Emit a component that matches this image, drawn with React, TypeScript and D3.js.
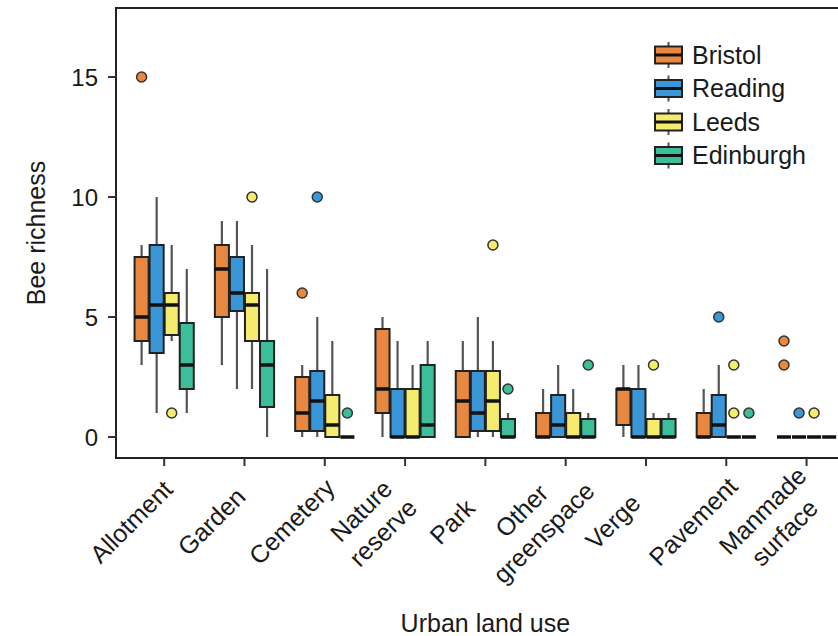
import React from 'react';
import * as d3 from 'd3';

// ---------- data ----------
const categories = [
  'Allotment', 'Garden', 'Cemetery', 'Nature\nreserve', 'Park',
  'Other\ngreenspace', 'Verge', 'Pavement', 'Manmade\nsurface',
];
const cities = ['Bristol', 'Reading', 'Leeds', 'Edinburgh'];
const cityColors = ['#E88840', '#3A96D6', '#F5EB6E', '#3CBE9B'];

// [lower whisker, Q1, median, Q3, upper whisker] per category
const bristolStats = [
  [3, 4, 5, 7.5, 8], [3, 5, 7, 8, 9], [0, 0.25, 1, 2.5, 3], [0, 1, 2, 4.5, 5],
  [0, 0, 1.5, 2.75, 4], [0, 0, 0, 1, 2], [0, 0.5, 2, 2, 3], [0, 0, 0, 1, 2], [0, 0, 0, 0, 0],
];
const readingStats = [
  [1, 3.5, 5.5, 8, 10], [2, 5.25, 6, 7.5, 9], [0, 0.25, 1.5, 2.75, 5], [0, 0, 0, 2, 4],
  [0, 0.25, 1, 2.75, 5], [0, 0, 0.5, 1.75, 3], [0, 0, 0, 2, 3], [0, 0, 0.5, 1.75, 3], [0, 0, 0, 0, 0],
];
const leedsStats = [
  [4, 4.25, 5.5, 6, 8], [2, 4, 5.5, 6, 8], [0, 0, 0.5, 1.75, 4], [0, 0, 0, 2, 3],
  [0, 0.25, 1.5, 2.75, 4], [0, 0, 0, 1, 2], [0, 0, 0, 0.75, 1], [0, 0, 0, 0, 0], [0, 0, 0, 0, 0],
];
const edinburghStats = [
  [1, 2, 3, 4.75, 7], [0, 1.25, 3, 4, 7], [0, 0, 0, 0, 0], [0, 0, 0.5, 3, 4],
  [0, 0, 0, 0.75, 1], [0, 0, 0, 0.75, 1], [0, 0, 0, 0.75, 1], [0, 0, 0, 0, 0], [0, 0, 0, 0, 0],
];

const bristolOutliers = [[15], [], [6], [], [], [], [], [], [3, 4]];
const readingOutliers = [[], [], [10], [], [], [], [], [5], [1]];
const leedsOutliers = [[1], [10], [], [], [8], [], [3], [1, 3], [1]];
const edinburghOutliers = [[], [], [1], [], [2], [3], [], [1], []];

const yTicks = [0, 5, 10, 15];
const xTitle = 'Urban land use';
const yTitle = 'Bee richness';

const allStats = [bristolStats, readingStats, leedsStats, edinburghStats];
const allOutliers = [bristolOutliers, readingOutliers, leedsOutliers, edinburghOutliers];

// ---------- layout ----------
const W = 838;
const H = 636;
const plotLeft = 116;
const plotTop = 8;
const plotBottom = 458;
const step = 80.3;
const firstCenter = plotLeft + 0.6 * step;
const lastCenter = firstCenter + (categories.length - 1) * step;
const plotRight = lastCenter + 0.6 * step;

const FONT = '"Liberation Sans", Arial, Helvetica, sans-serif';
const outline = '#222';
const textColor = '#1a1a1a';

export default function App() {
  const x = d3.scalePoint<string>().domain(categories).range([firstCenter, lastCenter]);
  const dodge = d3.scaleBand<string>().domain(cities).range([-0.375 * step, 0.375 * step]).padding(0);
  const y = d3.scaleLinear().domain([-0.875, 17.875]).range([plotBottom, plotTop]);
  const bw = dodge.bandwidth();

  const legendX = 655;
  const legendY0 = 55;
  const legendStep = 33.5;

  return (
    <svg width={W} height={H} style={{ position: 'absolute', left: 0, top: 0, background: '#fff' }}
      fontFamily={FONT}>
      <rect x={0} y={0} width={W} height={H} fill="#fff" />
      {/* boxes */}
      {cities.map((city, ci) => (
        <g key={city}>
          {categories.map((cat, k) => {
            const [lo, q1, med, q3, hi] = allStats[ci][k];
            const cx = (x(cat) as number) + (dodge(city) as number) + bw / 2;
            return (
              <g key={cat}>
                <line x1={cx} x2={cx} y1={y(hi)} y2={y(q3)} stroke="#555" strokeWidth={2.2} />
                <line x1={cx} x2={cx} y1={y(q1)} y2={y(lo)} stroke="#555" strokeWidth={2.2} />
                <rect x={cx - bw / 2 + 0.5} y={y(q3)} width={bw - 1} height={Math.max(0, y(q1) - y(q3))}
                  fill={cityColors[ci]} stroke={outline} strokeWidth={2} />
                <line x1={cx - bw / 2 + 0.5} x2={cx + bw / 2 - 0.5} y1={y(med)} y2={y(med)}
                  stroke="#111" strokeWidth={3.5} />
                {allOutliers[ci][k].map((v, j) => (
                  <circle key={j} cx={cx} cy={y(v)} r={5} fill={cityColors[ci]} stroke="#333" strokeWidth={1.5} />
                ))}
              </g>
            );
          })}
        </g>
      ))}

      {/* frame */}
      <rect x={plotLeft} y={plotTop} width={plotRight - plotLeft} height={plotBottom - plotTop}
        fill="none" stroke={outline} strokeWidth={2} />

      {/* y axis */}
      {yTicks.map((t) => (
        <g key={t}>
          <line x1={plotLeft - 8} x2={plotLeft} y1={y(t)} y2={y(t)} stroke="#333" strokeWidth={2} />
          <text x={plotLeft - 18} y={y(t) + 8.5} textAnchor="end" fontSize={24} fill={textColor}>{t}</text>
        </g>
      ))}
      <text transform={`translate(45,${(plotTop + plotBottom) / 2}) rotate(-90)`} textAnchor="middle"
        fontSize={25} fill={textColor}>{yTitle}</text>

      {/* x axis */}
      {categories.map((cat) => {
        const cx = x(cat) as number;
        const lines = cat.split('\n');
        const n = lines.length;
        return (
          <g key={cat}>
            <line x1={cx} x2={cx} y1={plotBottom} y2={plotBottom + 8} stroke="#333" strokeWidth={2} />
            <g transform={`translate(${cx},${plotBottom + 9}) rotate(-45)`}>
              {lines.map((ln, i) => (
                <text key={i} x={-62} y={24 + (i - (n - 1) / 2) * 31} textAnchor="middle" fontSize={25} fill={textColor}>
                  {ln}
                </text>
              ))}
            </g>
          </g>
        );
      })}
      <text x={(plotLeft + plotRight) / 2} y={632} textAnchor="middle" fontSize={25} fill={textColor}>{xTitle}</text>

      {/* legend */}
      {cities.map((city, ci) => {
        const cy = legendY0 + ci * legendStep;
        return (
          <g key={city}>
            <line x1={legendX + 13.5} x2={legendX + 13.5} y1={cy - 13} y2={cy + 13} stroke="#555" strokeWidth={2} />
            <rect x={legendX} y={cy - 8.5} width={27} height={17} fill={cityColors[ci]} stroke={outline} strokeWidth={2} />
            <line x1={legendX} x2={legendX + 27} y1={cy} y2={cy} stroke="#111" strokeWidth={3} />
            <text x={legendX + 37} y={cy + 8.5} fontSize={25} fill={textColor}>{city}</text>
          </g>
        );
      })}
    </svg>
  );
}
